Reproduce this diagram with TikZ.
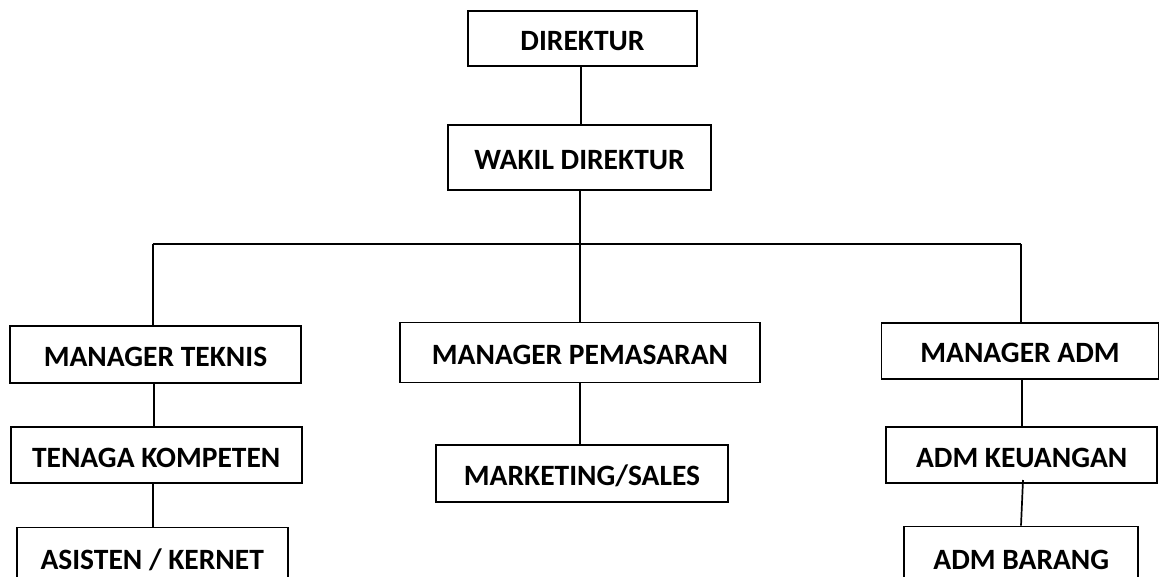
\documentclass[tikz,border=0pt]{standalone}
\usepackage{fontspec}
\setmainfont{Carlito}
\begin{document}
\begin{tikzpicture}[x=1pt,y=-1pt,
  box/.style={draw=black,line width=1.7pt,fill=white,inner sep=0pt,text height=24pt,text depth=0pt,font=\fontsize{29.5}{31}\selectfont\bfseries},
  link/.style={draw=black,line width=1.7pt}]
\useasboundingbox (0,0) rectangle (1159,577);
\clip (0,0) rectangle (1159,577);
\node[box,minimum width=229pt,minimum height=55pt] (dir) at (582.5,38.5) {DIREKTUR};
\node[box,minimum width=263pt,minimum height=65pt] (wak) at (579.5,157.5) {WAKIL DIREKTUR};
\node[box,minimum width=291pt,minimum height=57pt] (mt) at (155.5,354.3) {MANAGER TEKNIS};
\node[box,minimum width=360pt,minimum height=60pt] (mp) at (580,352.5) {MANAGER PEMASARAN};
\node[box,minimum width=277pt,minimum height=56pt] (ma) at (1020,350.8) {MANAGER ADM};
\node[box,minimum width=291pt,minimum height=56pt] (tk) at (156.2,455.3) {TENAGA KOMPETEN};
\node[box,minimum width=292pt,minimum height=57pt] (mkt) at (582,473.7) {MARKETING/SALES};
\node[box,minimum width=271pt,minimum height=56pt] (ak) at (1021.7,455.3) {ADM KEUANGAN};
\node[box,minimum width=271pt,minimum height=60pt] (as) at (152.2,557.5) {ASISTEN / KERNET};
\node[box,minimum width=234pt,minimum height=62pt] (ab) at (1021.3,557.5) {ADM BARANG};
\coordinate (hl) at (152.7,244);
\coordinate (hm) at (580,244);
\coordinate (hr) at (1021.3,244);
\draw[link] (dir.south -| 581,0) -- (wak.north -| 581,0);
\draw[link] (wak.south -| hm) -- (hm);
\draw[link] (hl) -- (hr);
\draw[link] (hl) -- (mt.north -| hl);
\draw[link] (hm) -- (mp.north -| hm);
\draw[link] (hr) -- (ma.north -| hr);
\draw[link] (mp.south -| hm) -- (mkt.north -| hm);
\draw[link] (mt.south -| 154,0) -- (tk.north -| 154,0);
\draw[link] (tk.south -| 152.7,0) -- (as.north -| 152.7,0);
\draw[link] (ma.south -| 1022,0) -- (ak.north -| 1022,0);
\draw[link] (1023,480) -- (ab.north -| 1021,0);
\end{tikzpicture}
\end{document}
